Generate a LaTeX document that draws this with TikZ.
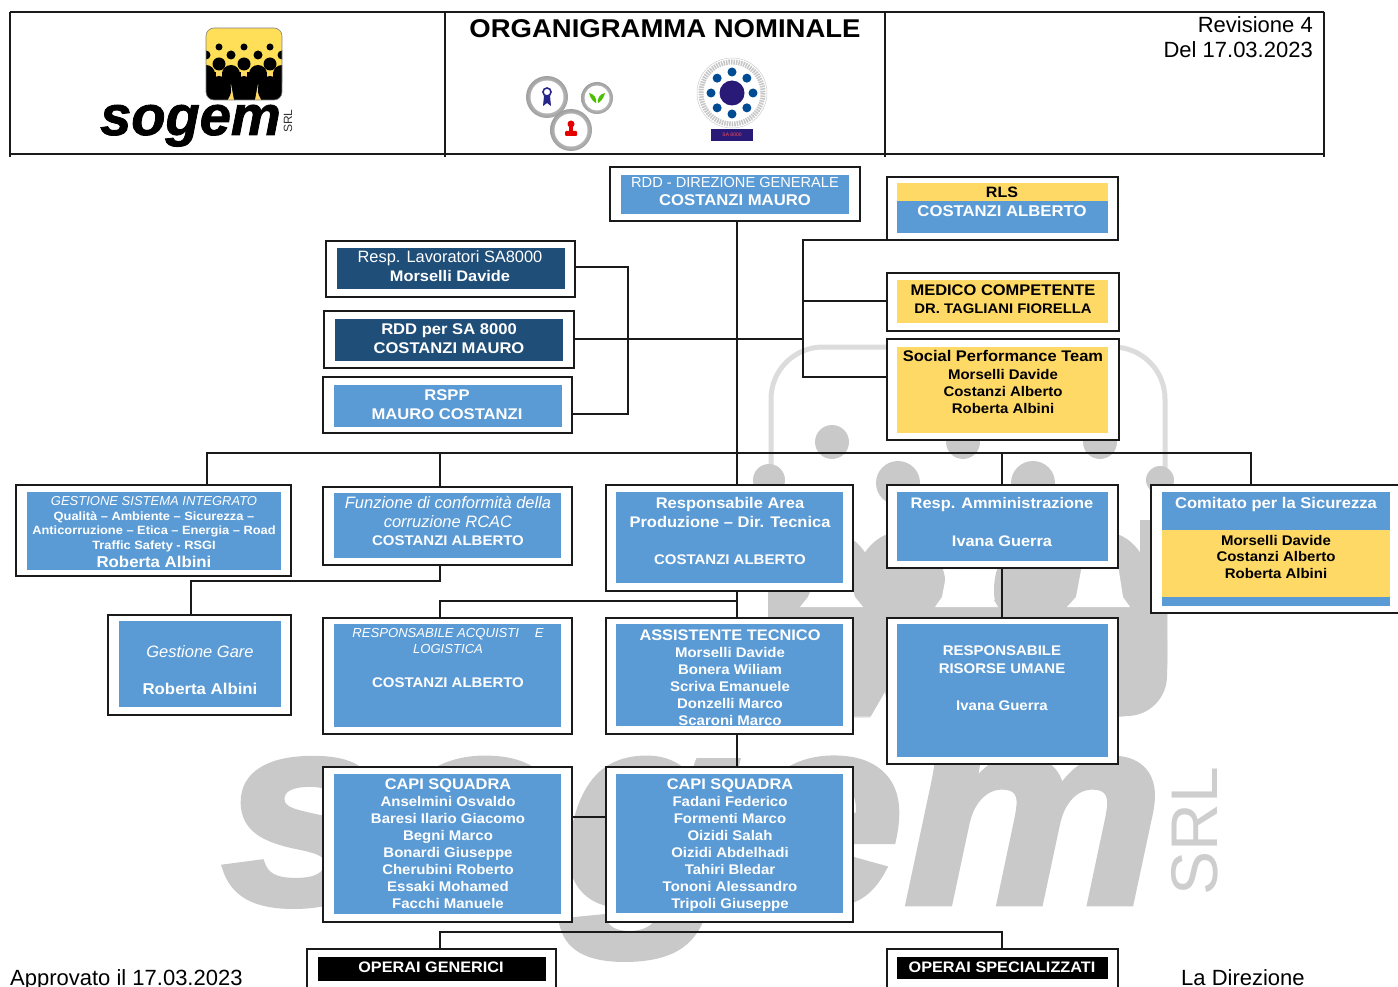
\documentclass[tikz,border=0pt]{standalone}
\usepackage{fontspec}
\usetikzlibrary{calc}
\setmainfont[BoldFeatures={FakeStretch=1.07}]{Liberation Sans}
\newfontfamily\heavyfont[UprightFont=* Bold Italic,FakeBold=1.5]{Liberation Sans}
\newfontfamily\wmfont[UprightFont=* Bold Italic,FakeBold=2.5,FakeStretch=1.09]{Liberation Sans}
\definecolor{bluebox}{HTML}{5B9BD5}
\definecolor{yellowbox}{HTML}{FFD966}
\definecolor{darkbox}{HTML}{1F4E79}
\definecolor{wmgray}{HTML}{C9C9C9}
\definecolor{linecol}{HTML}{1A1A1A}
\definecolor{navy}{HTML}{2A1A78}
\newcommand\fs[2]{\fontsize{#1}{#2}\selectfont}
\newcommand\firstline{\rule{0pt}{12pt}}
\newcommand\obox[5]{\node[outerbox,minimum width={(#4-#2)*1pt},minimum height={(#5-#3)*1pt}] (#1) at ({(#2+#4)/2},{(#3+#5)/2}) {};}
\newcommand\ibox[6]{\node[innerbox,fill=#2,minimum width={(#5-#3)*1pt},minimum height={(#6-#4)*1pt}] (#1) at ({(#3+#5)/2},{(#4+#6)/2}) {};}
% name, cx, first-line centre y, colour, font, text
\newcommand\tx[6]{\node[txt,text=#4,font=#5] (#1) at (#2,{#3-7}) {\firstline #6};}
\tikzset{
  outerbox/.style={draw=linecol,line width=1.5pt,fill=white,inner sep=0pt,outer sep=0pt},
  innerbox/.style={inner sep=0pt,outer sep=0pt},
  txt/.style={anchor=north,align=center,inner sep=0pt,outer sep=0pt},
  conn/.style={draw=linecol,line width=1.4pt},
  hline/.style={draw=linecol,line width=1.5pt},
  notch/.style={fill=white},
}
\begin{document}
\begin{tikzpicture}[x=1pt,y=-1pt]
\useasboundingbox (0,0) rectangle (1398,987);
\clip (0,0) rectangle (1398,987);

% ---------- watermark icon ----------
\draw[draw=wmgray!65,line width=5pt,rounded corners=52pt] (771,347) rectangle (1165,715);
\foreach \cx in {832,963,1100} \fill[wmgray] (\cx,442) circle (17);
\foreach \cx in {898,1033} \fill[wmgray] (\cx,483) circle (22);
\fill[wmgray] (769,480) circle (16);
\fill[wmgray] (1160,480) circle (14);
\foreach \cx in {830,900,1040,1105} \fill[wmgray] (\cx,590) ellipse (46 and 58);
\fill[wmgray,rounded corners=40pt] (768,600) rectangle (1167,716);
\fill[wmgray] (768,520) rectangle (790,640);
\fill[wmgray] (1140,520) rectangle (1167,640);
\fill[notch] (948,565) -- (988,565) -- (992,597) -- (998,607) -- (935,607) -- (942,597) -- cycle;
\fill[notch] (1082,565) -- (1118,565) -- (1123,597) -- (1130,607) -- (1067,607) -- (1076,597) -- cycle;
\fill[notch] (815,580) -- (850,580) -- (855,597) -- (863,607) -- (800,607) -- (808,597) -- cycle;
\fill[notch] (870,718) -- (885,692) -- (889,718) -- cycle;
% ---------- watermark wordmark ----------
\node[anchor=base west,inner sep=0pt,text=wmgray,font={\wmfont\fontsize{268}{268}\selectfont}] (wmword) at (222,903) {sogem};
\node[anchor=base,rotate=90,inner sep=0pt,text=wmgray!90,font={\fs{66}{66}}] (wmsrl) at (1217,831) {SRL};

% ---------- header ----------
\coordinate (hTL) at (10,12);
\coordinate (hTR) at (1324,12);
\coordinate (hBL) at (10,154);
\coordinate (hBR) at (1324,154);
\coordinate (hA) at (445,12);
\coordinate (hB) at (885,12);
\draw[hline] (hTL) -- (hTR);
\draw[hline] (hBL) -- (hBR);
\draw[hline] (hTL) -- ++(0,145);
\draw[hline] (hA) -- ++(0,145);
\draw[hline] (hB) -- ++(0,145);
\draw[hline] (hTR) -- ++(0,145);
\node[anchor=base,inner sep=0pt,font={\bfseries\fs{25.7}{30}}] (title) at (665,38) {ORGANIGRAMMA NOMINALE};
\node[anchor=base east,inner sep=0pt,font={\fs{22}{24}}] (rev) at (1313,33) {Revisione 4};
\node[anchor=base east,inner sep=0pt,font={\fs{22}{24}}] (del) at (1313,58) {Del 17.03.2023};

% ---------- sogem logo ----------
\begin{scope}
\clip[rounded corners=8pt] (206,28) rectangle (282,100);
\fill[yellowbox!85!yellow] (206,28) rectangle (282,100);
\foreach \cx in {219,244,270} \fill (\cx,47) circle (3.5);
\foreach \cx in {206,231,258,282} \fill (\cx,55) circle (4.5);
\foreach \cx in {219,244,270} \fill (\cx,64) circle (6.5);
\fill (206,72) rectangle (282,100);
\foreach \cx in {206,231,258,282} \fill (\cx,74) circle (9);
\foreach \cx in {219,244,270} \fill[yellowbox] (\cx-3,72) rectangle (\cx+3,78);
\fill[yellowbox] (231,84) -- (234,100) -- (228,100) -- cycle;
\fill[yellowbox] (258,84) -- (261,100) -- (255,100) -- cycle;
\foreach \cx in {219,270} \fill (\cx,90) ellipse (12 and 14);
\fill (244,90) ellipse (11 and 14);
\end{scope}
\draw[gray,line width=0.6pt,rounded corners=8pt] (206,28) rectangle (282,100);
\node[anchor=base west,inner sep=0pt,font={\heavyfont\fs{56}{56}}] (logoword) at (100,135) {sogem};
\node[anchor=base,rotate=90,inner sep=0pt,text=black!80,font={\fs{12}{12}}] (logosrl) at (292,121) {SRL};

% ---------- certification marks ----------
\foreach \cx/\cy/\r in {547/97/21,597/98/16,571/130/21}
  \shade[inner color=white,outer color=gray!75] (\cx,\cy) circle (\r);
\foreach \cx/\cy/\r in {547/97/16.5,597/98/12.5,571/130/16.5}
  \fill[white] (\cx,\cy) circle (\r);
\draw[blue!45!black!85,line width=1.6pt] (547,92) circle (4);
\fill[blue!45!black!85] (544,96) -- (550,96) -- (551,106) -- (547,103) -- (543,106) -- cycle;
\fill[green!60!yellow!75!black] (589,93) .. controls (591,100) and (594,102) .. (596,103) .. controls (597,98) and (594,94) .. (589,93);
\fill[green!60!yellow!75!black] (605,93) .. controls (603,100) and (600,102) .. (598,103) .. controls (597,98) and (600,94) .. (605,93);
\fill[red!90!black] (571,124) circle (3.5);
\fill[red!90!black] (569,126) rectangle (573,132);
\fill[red!90!black,rounded corners=1pt] (565,131) rectangle (577,136);
% seal
\fill[white] (732,93) circle (35);
\draw[gray!45,line width=5pt,dash pattern=on 1.5pt off 1pt] (732,93) circle (31);
\draw[gray!40,line width=0.5pt] (732,93) circle (35);
\fill[navy] (732,93) circle (12.5);
\foreach \a in {0,45,...,315} \fill[blue!40!black!70!cyan] ($(732,93)+(\a:21)$) circle (4.5);
\node[fill=navy,text=red!70,inner sep=0pt,minimum width=42pt,minimum height=12pt,font={\fs{5}{6}}] (sa) at (732,135) {SA 8000};

% ---------- boxes ----------
\obox{rdd}{610}{167}{860}{221}\ibox{rdd-i}{bluebox}{621}{175}{849}{214}
\tx{rdd-t}{735}{183}{white}{\fs{14.6}{18}}{RDD - DIREZIONE GENERALE\\\bfseries\fs{15.6}{18}COSTANZI MAURO}

\obox{rls}{887}{177}{1118}{240}\ibox{rls-i}{bluebox}{897}{183}{1108}{233}
\ibox{rls-y}{yellowbox}{897}{183}{1108}{201}
\tx{rls-t}{1002}{193}{black}{\bfseries\fs{15}{19}}{RLS}
\tx{rls-n}{1002}{212}{white}{\bfseries\fs{15.6}{19}}{COSTANZI ALBERTO}

\obox{lav}{326}{241}{575}{297}\ibox{lav-i}{darkbox}{337}{248}{565}{289}
\tx{lav-t}{450}{257}{white}{\fs{16.4}{19}}{Resp. Lavoratori SA8000\\\bfseries\fs{15.3}{19}Morselli Davide}

\obox{sa8}{324}{311}{574}{368}\ibox{sa8-i}{darkbox}{335}{319}{563}{361}
\tx{sa8-t}{449}{329}{white}{\bfseries\fs{15.5}{19}}{RDD per SA 8000\\COSTANZI MAURO}

\obox{rspp}{323}{377}{572}{433}\ibox{rspp-i}{bluebox}{334}{385}{562}{427}
\tx{rspp-t}{447}{395}{white}{\bfseries\fs{15.5}{19}}{RSPP\\MAURO COSTANZI}

\obox{med}{887}{273}{1119}{331}\ibox{med-i}{yellowbox}{897}{280}{1108}{323}
\tx{med-t}{1003}{290}{black}{\bfseries\fs{15.4}{18}}{MEDICO COMPETENTE\\\fs{13.9}{18}DR. TAGLIANI FIORELLA}

\obox{soc}{887}{339}{1119}{440}\ibox{soc-i}{yellowbox}{897}{347}{1108}{433}
\tx{soc-t}{1003}{356}{black}{\bfseries\fs{15.4}{18}}{Social Performance Team}
\tx{soc-n}{1003}{374}{black}{\bfseries\fs{14}{17}}{Morselli Davide\\Costanzi Alberto\\Roberta Albini}

\obox{gest}{16}{485}{291}{576}\ibox{gest-i}{bluebox}{27}{492}{281}{570}
\tx{gest-t}{154}{500}{white}{\itshape\fs{13}{15}}{GESTIONE SISTEMA INTEGRATO}
\tx{gest-q}{154}{515}{white}{\bfseries\fs{12}{14.5}}{Qualità – Ambiente – Sicurezza –\\Anticorruzione – Etica – Energia – Road\\Traffic Safety - RSGI}
\tx{gest-n}{154}{562}{white}{\bfseries\fs{15.7}{18}}{Roberta Albini}

\obox{funz}{323}{487}{572}{565}\ibox{funz-i}{bluebox}{334}{493}{561}{558}
\tx{funz-t}{448}{503}{white}{\itshape\fs{16.5}{19}}{Funzione di conformità della\\corruzione RCAC}
\tx{funz-n}{448}{540}{white}{\bfseries\fs{14}{18}}{COSTANZI ALBERTO}

\obox{area}{606}{485}{853}{591}\ibox{area-i}{bluebox}{616}{492}{843}{583}
\tx{area-t}{730}{503}{white}{\bfseries\fs{15.4}{19}}{Responsabile Area\\Produzione – Dir. Tecnica}
\tx{area-n}{730}{559}{white}{\bfseries\fs{14}{18}}{COSTANZI ALBERTO}

\obox{amm}{887}{485}{1118}{568}\ibox{amm-i}{bluebox}{897}{492}{1108}{561}
\tx{amm-t}{1002}{503}{white}{\bfseries\fs{15.3}{38}}{Resp. Amministrazione\\Ivana Guerra}

\obox{com}{1151}{485}{1404}{613}\ibox{com-i}{bluebox}{1162}{492}{1390}{606}
\ibox{com-y}{yellowbox}{1162}{530}{1390}{597}
\tx{com-t}{1276}{503}{white}{\bfseries\fs{15.5}{19}}{Comitato per la Sicurezza}
\tx{com-n}{1276}{540}{black}{\bfseries\fs{14}{16.7}}{Morselli Davide\\Costanzi Alberto\\Roberta Albini}

\obox{gare}{108}{615}{291}{715}\ibox{gare-i}{bluebox}{119}{621}{281}{707}
\tx{gare-t}{200}{652}{white}{\itshape\fs{16.5}{19}}{Gestione Gare}
\tx{gare-n}{200}{689}{white}{\bfseries\fs{15.7}{19}}{Roberta Albini}

\obox{acq}{323}{618}{572}{734}\ibox{acq-i}{bluebox}{334}{624}{561}{727}
\tx{acq-t}{448}{632}{white}{\itshape\fs{13.1}{16}}{RESPONSABILE ACQUISTI\hspace{1.2em}E\\LOGISTICA}
\tx{acq-n}{448}{682}{white}{\bfseries\fs{14}{18}}{COSTANZI ALBERTO}

\obox{ass}{606}{618}{853}{734}\ibox{ass-i}{bluebox}{616}{624}{843}{726}
\tx{ass-t}{730}{635}{white}{\bfseries\fs{15.3}{19}}{ASSISTENTE TECNICO}
\tx{ass-n}{730}{652}{white}{\bfseries\fs{14}{17}}{Morselli Davide\\Bonera Wiliam\\Scriva Emanuele\\Donzelli Marco\\Scaroni Marco}

\obox{rru}{887}{618}{1118}{764}\ibox{rru-i}{bluebox}{897}{624}{1108}{757}
\tx{rru-t}{1002}{650}{white}{\bfseries\fs{14}{18}}{RESPONSABILE\\RISORSE UMANE}
\tx{rru-n}{1002}{705}{white}{\bfseries\fs{14}{18}}{Ivana Guerra}

\obox{capa}{323}{767}{572}{922}\ibox{capa-i}{bluebox}{334}{774}{561}{914}
\tx{capa-t}{448}{784}{white}{\bfseries\fs{15.3}{19}}{CAPI SQUADRA}
\tx{capa-n}{448}{801}{white}{\bfseries\fs{14}{17}}{Anselmini Osvaldo\\Baresi Ilario Giacomo\\Begni Marco\\Bonardi Giuseppe\\Cherubini Roberto\\Essaki Mohamed\\Facchi Manuele}

\obox{capb}{606}{767}{853}{922}\ibox{capb-i}{bluebox}{616}{774}{843}{913}
\tx{capb-t}{730}{784}{white}{\bfseries\fs{15.3}{19}}{CAPI SQUADRA}
\tx{capb-n}{730}{801}{white}{\bfseries\fs{14}{17}}{Fadani Federico\\Formenti Marco\\Oizidi Salah\\Oizidi Abdelhadi\\Tahiri Bledar\\Tononi Alessandro\\Tripoli Giuseppe}

\obox{gen}{307}{949}{556}{993}\ibox{gen-i}{black}{318}{957}{546}{981}
\tx{gen-t}{431}{967}{white}{\bfseries\fs{15.2}{18}}{OPERAI GENERICI}

\obox{spe}{887}{949}{1118}{993}\ibox{spe-i}{black}{897}{957}{1108}{979}
\tx{spe-t}{1002}{967}{white}{\bfseries\fs{15.2}{18}}{OPERAI SPECIALIZZATI}

% ---------- footer ----------
\node[anchor=base west,inner sep=0pt,font={\fs{22}{24}}] (appr) at (10,985) {Approvato il 17.03.2023};
\node[anchor=base west,inner sep=0pt,font={\fs{22}{24}}] (dir) at (1181,985) {La Direzione};

% ---------- connectors ----------
\coordinate (trunk) at (737,453);
\coordinate (busL) at (207,453);
\coordinate (busF) at (440,453);
\coordinate (busA) at (1002,453);
\coordinate (busR) at (1251,453);
\draw[conn] (trunk |- rdd.south) -- (trunk |- area.north);
\draw[conn] (busL |- gest.north) -- (busL) -- (busR) -- (busR |- com.north);
\draw[conn] (busF) -- (busF |- funz.north);
\draw[conn] (busA) -- (busA |- amm.north);
% right bracket
\coordinate (rb) at (803,339);
\coordinate (rbm) at (803,301);
\coordinate (rbs) at (803,377);
\draw[conn] (sa8.east |- rb) -- (rb);
\draw[conn] (rls.south west) -- (rls.south west -| rb) -- (rbs) -- (rbs -| soc.west);
\draw[conn] (rbm) -- (rbm -| med.west);
% left bracket
\coordinate (lb) at (628,267);
\coordinate (lbb) at (628,414);
\draw[conn] (lav.east |- lb) -- (lb) -- (lbb) -- (lbb -| rspp.east);
% Funzione -> Gestione Gare
\coordinate (gg) at (191,581);
\coordinate (ggf) at (440,581);
\draw[conn] (ggf |- funz.south) -- (ggf) -- (gg) -- (gg |- gare.north);
% Area -> Acquisti / Assistente
\coordinate (aa) at (737,601);
\coordinate (ab) at (440,601);
\draw[conn] (aa |- area.south) -- (aa |- ass.north);
\draw[conn] (aa) -- (ab) -- (ab |- acq.north);
\draw[conn] (aa |- ass.south) -- (aa |- capb.north);
% Amm -> RRU
\draw[conn] (busA |- amm.south) -- (busA |- rru.north);
% Capi link
\coordinate (cl) at (590,817);
\draw[conn] (capa.east |- cl) -- (capb.west |- cl);
% Operai bus
\coordinate (obl) at (440,932);
\coordinate (obr) at (1002,932);
\draw[conn] (obl |- gen.north) -- (obl) -- (obr) -- (obr |- spe.north);
\end{tikzpicture}
\end{document}
